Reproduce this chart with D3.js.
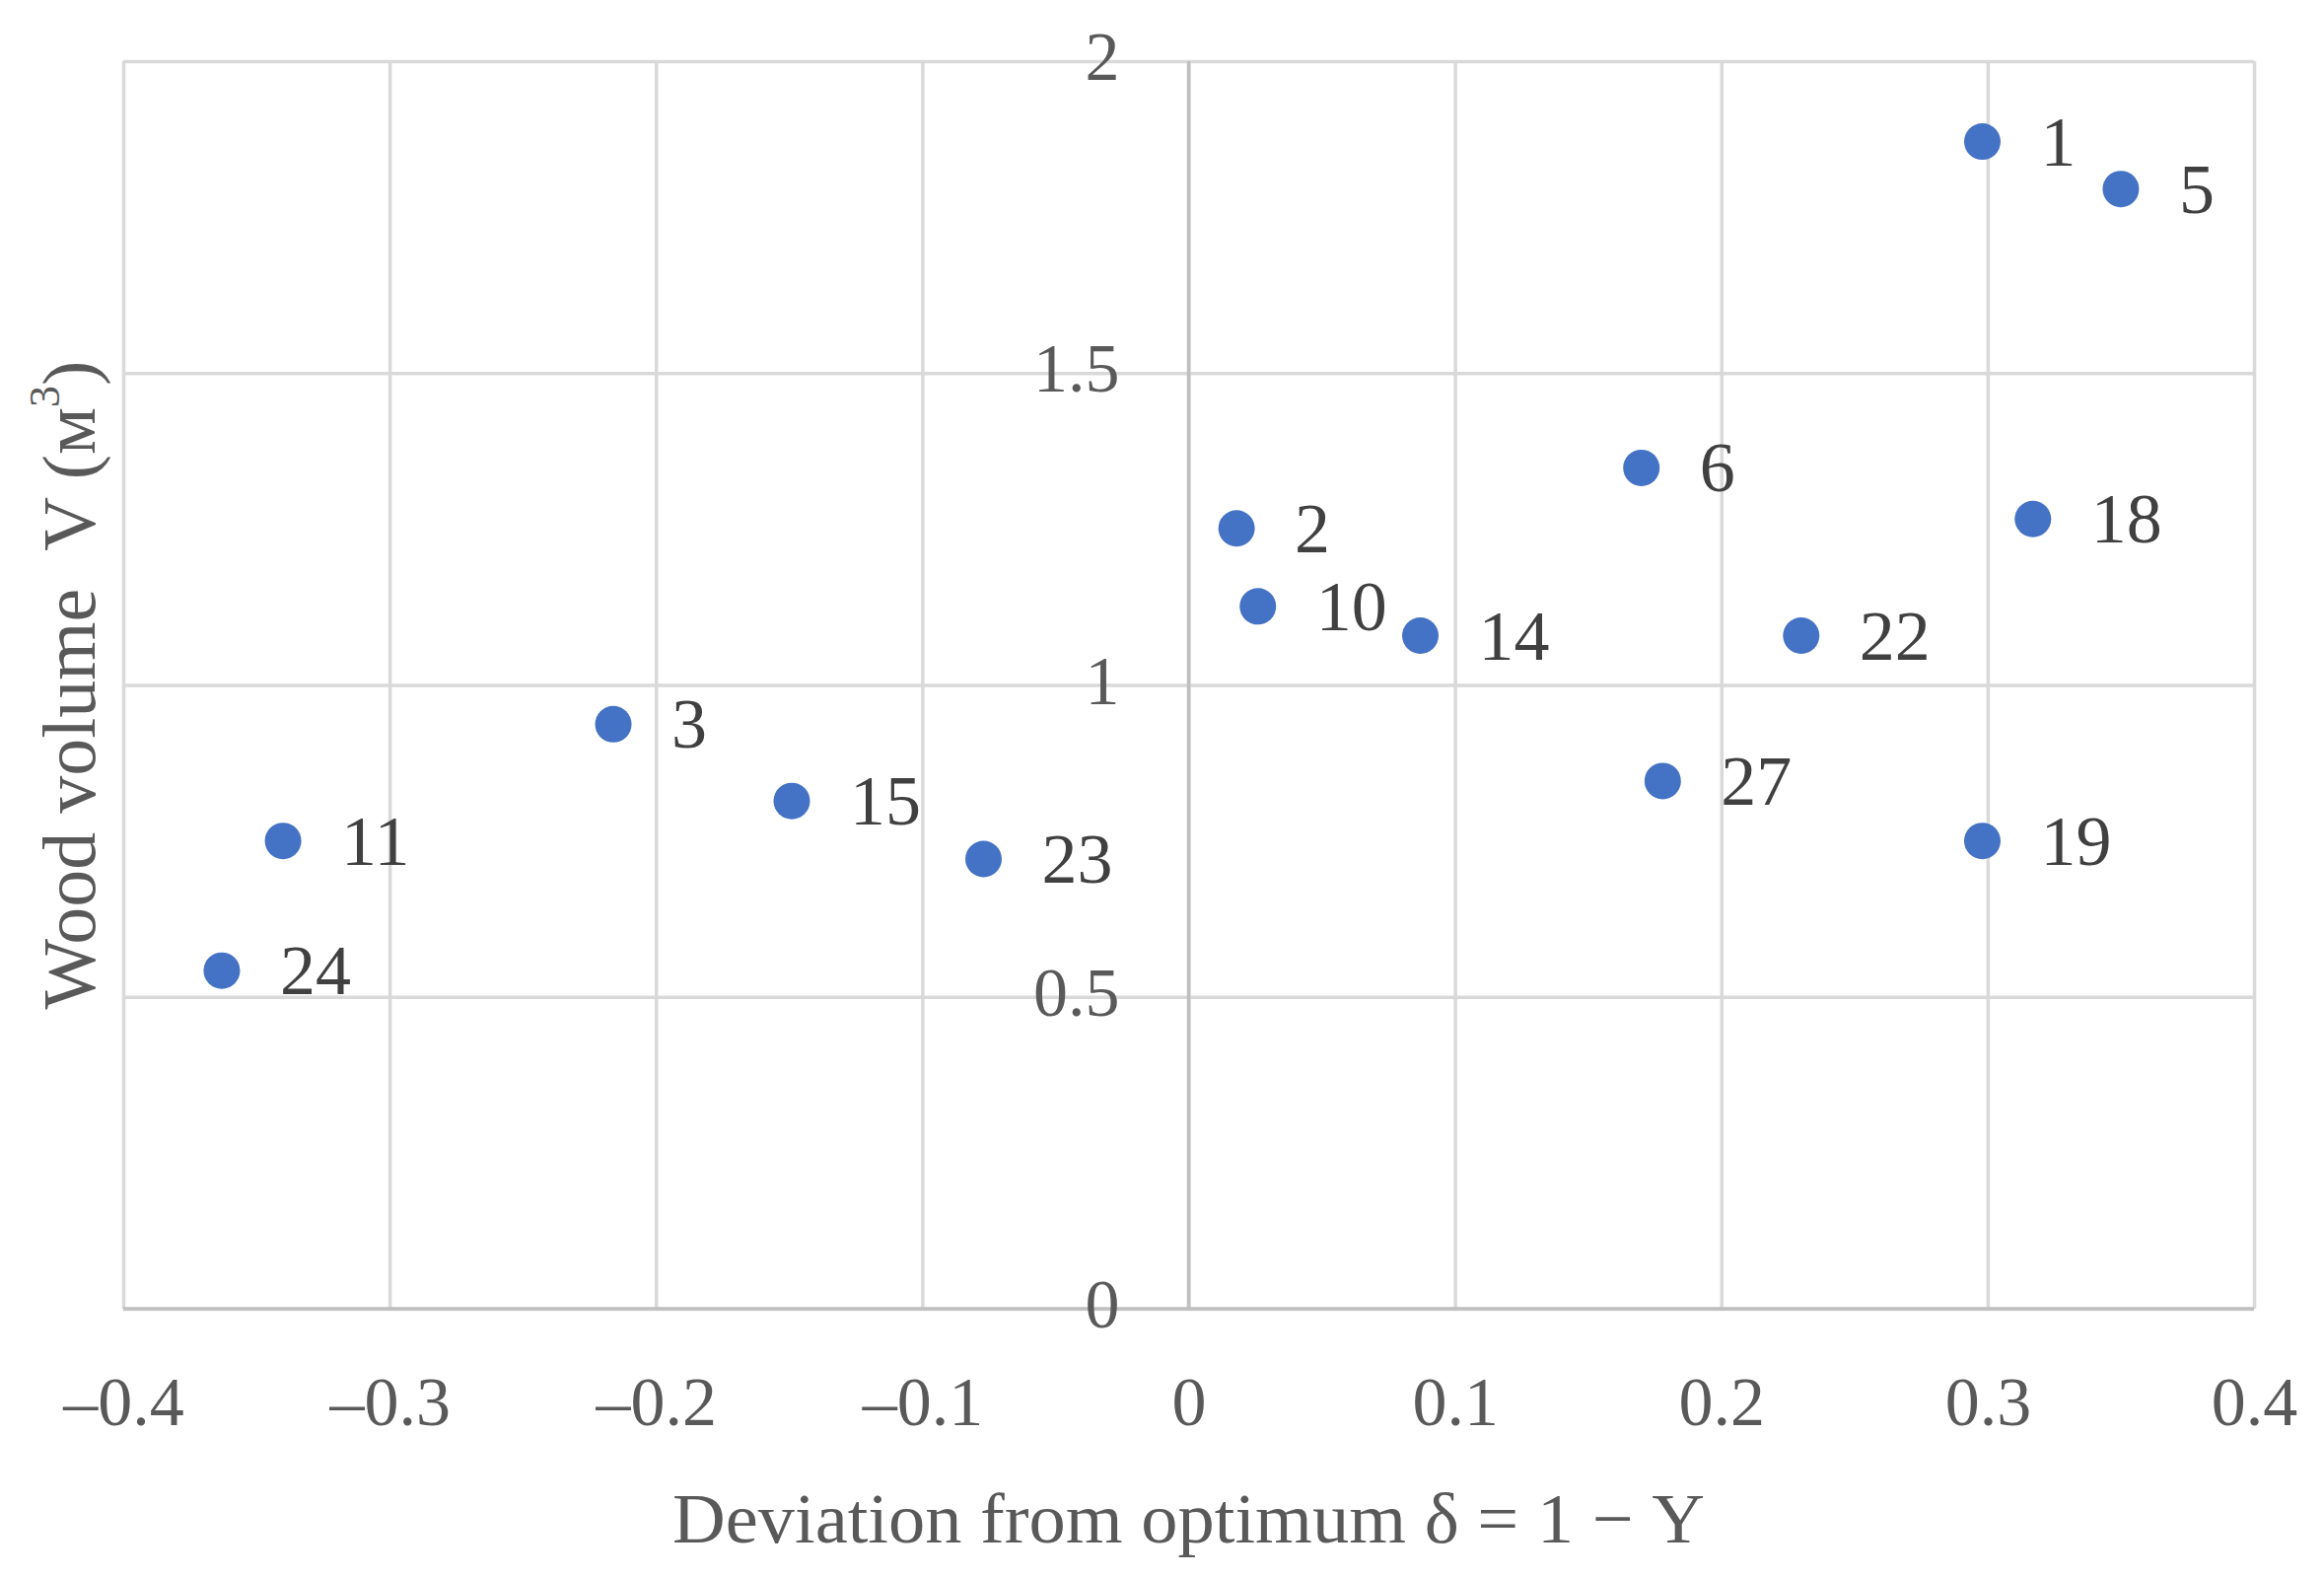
<!DOCTYPE html>
<html>
<head>
<meta charset="utf-8">
<script src="https://cdn.jsdelivr.net/npm/d3@7"></script>
<style>
  body { margin: 0; background: #ffffff; }
  svg { display: block; }
</style>
</head>
<body>
<div id="chart"></div>
<script>
// point numbers and their values (deviation, volume)
var pointIds = ["1", "5", "6", "2", "18", "10", "14", "22", "27", "19", "11", "15", "23", "24", "3"];
var deviation = [0.298, 0.350, 0.170, 0.018, 0.317, 0.026, 0.087, 0.230, 0.178, 0.298, -0.340, -0.149, -0.077, -0.363, -0.216];
var volume = [1.871, 1.795, 1.348, 1.251, 1.266, 1.126, 1.079, 1.079, 0.846, 0.750, 0.750, 0.814, 0.721, 0.542, 0.937];

var xTicks = [-0.4, -0.3, -0.2, -0.1, 0, 0.1, 0.2, 0.3, 0.4];
var xTickLabels = ["–0.4", "–0.3", "–0.2", "–0.1", "0", "0.1", "0.2", "0.3", "0.4"];
var yTicks = [0, 0.5, 1, 1.5, 2];
var yTickLabels = ["0", "0.5", "1", "1.5", "2"];

var width = 2357, height = 1599;
var font = "'Liberation Serif', 'DejaVu Serif', serif";

var svg = d3.select("#chart")
  .append("svg")
  .attr("width", width)
  .attr("height", height);

svg.append("rect").attr("width", width).attr("height", height).attr("fill", "#ffffff");

var x = d3.scaleLinear().domain([-0.4, 0.4]).range([125, 2286]);
var y = d3.scaleLinear().domain([0, 2]).range([1327, 62]);

// vertical grid lines
var gx = svg.append("g")
  .attr("transform", "translate(0," + y(0) + ")")
  .call(d3.axisBottom(x).tickValues(xTicks).tickSize(-(y(0) - y(2))).tickFormat(""));
gx.select(".domain").remove();
gx.selectAll("line").attr("stroke", "#d9d9d9").attr("stroke-width", 3.5);

// horizontal grid lines
var gy = svg.append("g")
  .attr("transform", "translate(" + x(-0.4) + ",0)")
  .call(d3.axisLeft(y).tickValues(yTicks).tickSize(-(x(0.4) - x(-0.4))).tickFormat(""));
gy.select(".domain").remove();
gy.selectAll("line").attr("stroke", "#d9d9d9").attr("stroke-width", 3.5);

// axis lines through zero
svg.append("line")
  .attr("x1", x(0)).attr("x2", x(0))
  .attr("y1", y(0)).attr("y2", y(2))
  .attr("stroke", "#bfbfbf").attr("stroke-width", 3.5);
svg.append("line")
  .attr("x1", x(-0.4)).attr("x2", x(0.4))
  .attr("y1", y(0)).attr("y2", y(0))
  .attr("stroke", "#bfbfbf").attr("stroke-width", 3.5);

// x tick labels
var ax = svg.append("g")
  .attr("transform", "translate(0,1421)")
  .call(d3.axisBottom(x).tickValues(xTicks).tickSize(0).tickPadding(0)
    .tickFormat(function(d, i) { return xTickLabels[i]; }));
ax.select(".domain").remove();
ax.selectAll("text")
  .attr("dy", null)
  .attr("y", 0)
  .attr("dominant-baseline", "central")
  .attr("fill", "#595959")
  .style("font-family", font)
  .style("font-size", "70px");

// y tick labels, sitting left of the zero line
var ay = svg.append("g")
  .attr("transform", "translate(" + (x(0) - 70) + ",-5)")
  .call(d3.axisLeft(y).tickValues(yTicks).tickSize(0).tickPadding(0)
    .tickFormat(function(d, i) { return yTickLabels[i]; }));
ay.select(".domain").remove();
ay.selectAll("text")
  .attr("dy", null)
  .attr("x", 0)
  .attr("dominant-baseline", "central")
  .attr("fill", "#595959")
  .style("font-family", font)
  .style("font-size", "70px");

// points
var pts = deviation.map(function(d, i) { return {id: pointIds[i], dx: d, v: volume[i]}; });

svg.selectAll("circle.pt")
  .data(pts)
  .enter()
  .append("circle")
    .attr("class", "pt")
    .attr("cx", function(d) { return x(d.dx); })
    .attr("cy", function(d) { return y(d.v); })
    .attr("r", 18.5)
    .attr("fill", "#4472c4");

svg.selectAll("text.lbl")
  .data(pts)
  .enter()
  .append("text")
    .attr("class", "lbl")
    .attr("x", function(d) { return x(d.dx) + 59; })
    .attr("y", function(d) { return y(d.v); })
    .attr("dominant-baseline", "central")
    .attr("fill", "#404040")
    .style("font-family", font)
    .style("font-size", "72px")
    .text(function(d) { return d.id; });

// axis titles
svg.append("text")
  .attr("x", (x(-0.4) + x(0.4)) / 2)
  .attr("y", 1540)
  .attr("text-anchor", "middle")
  .attr("dominant-baseline", "central")
  .attr("fill", "#595959")
  .attr("textLength", 1047)
  .attr("lengthAdjust", "spacingAndGlyphs")
  .style("font-family", font)
  .style("font-size", "72px")
  .text("Deviation from optimum δ = 1 − Y");

var yt = svg.append("text")
  .attr("transform", "translate(70," + ((y(0) + y(2)) / 2) + ") rotate(-90)")
  .attr("text-anchor", "middle")
  .attr("dominant-baseline", "central")
  .attr("fill", "#595959")
  .style("font-family", font)
  .style("font-size", "76px");
yt.append("tspan").text("Wood volume\u00a0\u00a0V (м");
yt.append("tspan").attr("baseline-shift", "super").style("font-size", "44px").text("3");
yt.append("tspan").text(")");
</script>
</body>
</html>
